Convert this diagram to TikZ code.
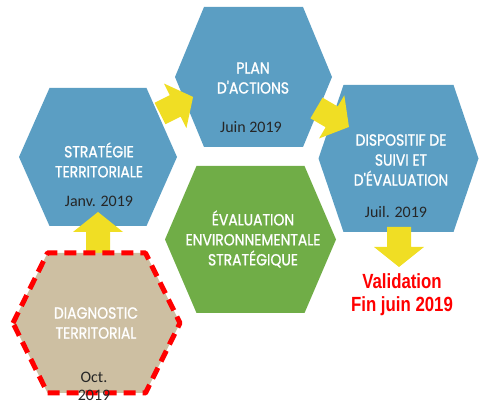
\documentclass[tikz,border=0pt]{standalone}
\usepackage{fontspec}
\newfontfamily\hexfont{Poppins}[FakeStretch=0.87,FakeBold=1.2]
\newfontfamily\datefont{Carlito}
\newfontfamily\valfont{Liberation Sans}[FakeStretch=0.82]
\definecolor{hexblue}{RGB}{91,158,195}
\definecolor{hexgreen}{RGB}{112,173,71}
\definecolor{hextan}{RGB}{205,191,162}
\definecolor{arrowyellow}{RGB}{240,222,36}
\definecolor{datetext}{RGB}{38,38,38}
\definecolor{valred}{RGB}{255,0,0}
\tikzset{
  % flat-topped hexagon drawn from its centre: half width / half top edge / half height
  hexpath/.style args={#1/#2/#3}{insert path={
      ++(-#1,0) -- ++({#1-#2},-#3) -- ++({2*#2},0) -- ++({#1-#2},#3)
      -- ++({#2-#1},#3) -- ++({-2*#2},0) -- cycle}},
  title/.style={inner sep=0pt, align=center, text=white,
      font=\hexfont\fontsize{16}{20}\selectfont},
  datelabel/.style={inner sep=0pt, align=center, text=datetext,
      font=\datefont\fontsize{16}{18}\selectfont},
  pics/blockarrow/.style={code={
      \fill[arrowyellow] (0,-12) -- ({#1-20},-12) -- ({#1-20},-25) -- (#1,0)
        -- ({#1-20},25) -- ({#1-20},12) -- (0,12) -- cycle;}}
}
\begin{document}
\begin{tikzpicture}[x=1pt,y=-1pt]
\useasboundingbox (0,0) rectangle (480,403);

% hexagon centres
\coordinate (strat) at (98,157);
\coordinate (plan)  at (253.5,77);
\coordinate (disp)  at (398.5,158.5);
\coordinate (ees)   at (250.5,239.5);
\coordinate (diag)  at (96.5,323);

% hexagons
\fill[hexblue]  (strat) [hexpath=79/48.5/69];
\fill[hexblue]  (plan)  [hexpath=78.5/49.5/70];
\fill[hexblue]  (disp)  [hexpath=80/55/73.5];
\fill[hexgreen] (ees)   [hexpath=85.5/54/73.5];

% step arrows
\coordinate (a1) at (160,113.5);
\coordinate (a2) at (316.5,108);
\coordinate (a3) at (98,253);
\coordinate (a4) at (399,227);
\pic[rotate=26.6] at (a1) {blockarrow=37};
\pic[rotate=-30.3] at (a2) {blockarrow=37.6};
\pic[rotate=90] at (a3) {blockarrow=41};
\pic[rotate=-90] at (a4) {blockarrow=40};

% starting step, dashed red outline
\filldraw[fill=hextan, draw=valred, line width=5pt, dash pattern=on 12pt off 7pt,
  line join=round] (diag) [hexpath=83.5/49/70];

% titles
\node[title] (tstrat) at (99,160) {STRATÉGIE\\TERRITORIALE};
\node[title] (tplan)  at (253,78) {PLAN\\D'ACTIONS};
\node[title] (tdisp)  at (401,160) {DISPOSITIF DE\\SUIVI ET\\D'ÉVALUATION};
\node[title] (tees)   at (253,239) {ÉVALUATION\\ENVIRONNEMENTALE\\STRATÉGIQUE};
\node[title] (tdiag)  at (96,323) {DIAGNOSTIC\\TERRITORIAL};

% dates
\node[datelabel] (dstrat) at (99,201) {Janv. 2019};
\node[datelabel] (dplan)  at (251,127) {Juin 2019};
\node[datelabel] (ddisp)  at (396,212) {Juil. 2019};
\node[datelabel] (ddiag)  at (94,386) {Oct.\\2019};

% final validation
\node[inner sep=0pt, align=center, text=valred,
  font=\valfont\bfseries\fontsize{20.5}{23}\selectfont] (valid) at (402,295)
  {Validation\\Fin juin 2019};
\end{tikzpicture}
\end{document}
